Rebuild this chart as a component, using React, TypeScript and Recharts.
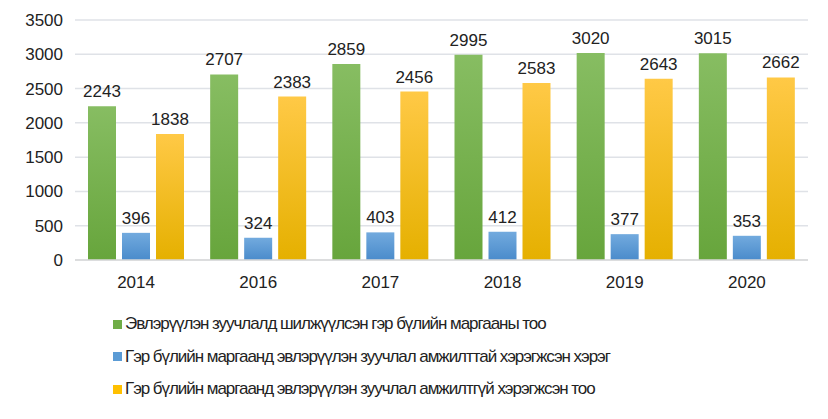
import { BarChart, Bar, XAxis, YAxis, CartesianGrid, LabelList } from 'recharts';

const years = ['2014', '2016', '2017', '2018', '2019', '2020'];
const transferred = [2243, 2707, 2859, 2995, 3020, 3015];
const successful = [396, 324, 403, 412, 377, 353];
const unsuccessful = [1838, 2383, 2456, 2583, 2643, 2662];
const yTicks = [0, 500, 1000, 1500, 2000, 2500, 3000, 3500];

const series = [
  { key: 'a', name: 'Эвлэрүүлэн зуучлалд шилжүүлсэн гэр бүлийн маргааны тоо', swatch: '#70ad47', top: '#87bd62', bottom: '#67a53c' },
  { key: 'b', name: 'Гэр бүлийн маргаанд эвлэрүүлэн зуучлал амжилттай хэрэгжсэн хэрэг', swatch: '#5b9bd5', top: '#72aade', bottom: '#4a8bcb' },
  { key: 'c', name: 'Гэр бүлийн маргаанд эвлэрүүлэн зуучлал амжилтгүй хэрэгжсэн тоо', swatch: '#ffc000', top: '#ffc946', bottom: '#e5b000' },
];

const data = years.map((y, i) => ({ year: y, a: transferred[i], b: successful[i], c: unsuccessful[i] }));

const font = '"Liberation Sans", Arial, sans-serif';

export default function App() {
  return (
    <div style={{ width: 812, fontFamily: font, background: '#fff' }}>
      <BarChart width={812} height={290} data={data} barSize={28} barGap={6}
        margin={{ top: 12, right: 12, left: 0, bottom: 8 }}>
        <defs>
          {series.map(s => (
            <linearGradient key={s.key} id={'g' + s.key} x1="0" y1="0" x2="0" y2="1">
              <stop offset="0%" stopColor={s.top} />
              <stop offset="100%" stopColor={s.bottom} />
            </linearGradient>
          ))}
        </defs>
        <CartesianGrid vertical={false} stroke="#dfe2e7" strokeWidth={1.5} />
        <XAxis dataKey="year" tickLine={false} axisLine={{ stroke: '#d9d9d9', strokeWidth: 1.5 }}
          tick={{ fontFamily: font, fontSize: 17, fill: '#222' }} tickMargin={10} />
        <YAxis width={67} domain={[0, 3500]} ticks={yTicks} tickLine={false} axisLine={false}
          tick={{ fontFamily: font, fontSize: 17, fill: '#222' }} tickMargin={6} />
        {series.map(s => (
          <Bar key={s.key} dataKey={s.key} name={s.name} fill={`url(#g${s.key})`} isAnimationActive={false}>
            <LabelList dataKey={s.key} position="top" offset={9}
              style={{ fontFamily: font, fontSize: 17, fill: '#222' }} />
          </Bar>
        ))}
      </BarChart>
      <div style={{ marginLeft: 105, marginTop: 10 }}>
        {series.map(s => (
          <div key={s.key} style={{ display: 'flex', alignItems: 'center', height: 32.5, fontSize: 17, color: '#222', letterSpacing: -1.05 }}>
            <span style={{ width: 9, height: 9, background: s.swatch, marginRight: 3 }} />
            <span>{s.name}</span>
          </div>
        ))}
      </div>
    </div>
  );
}
